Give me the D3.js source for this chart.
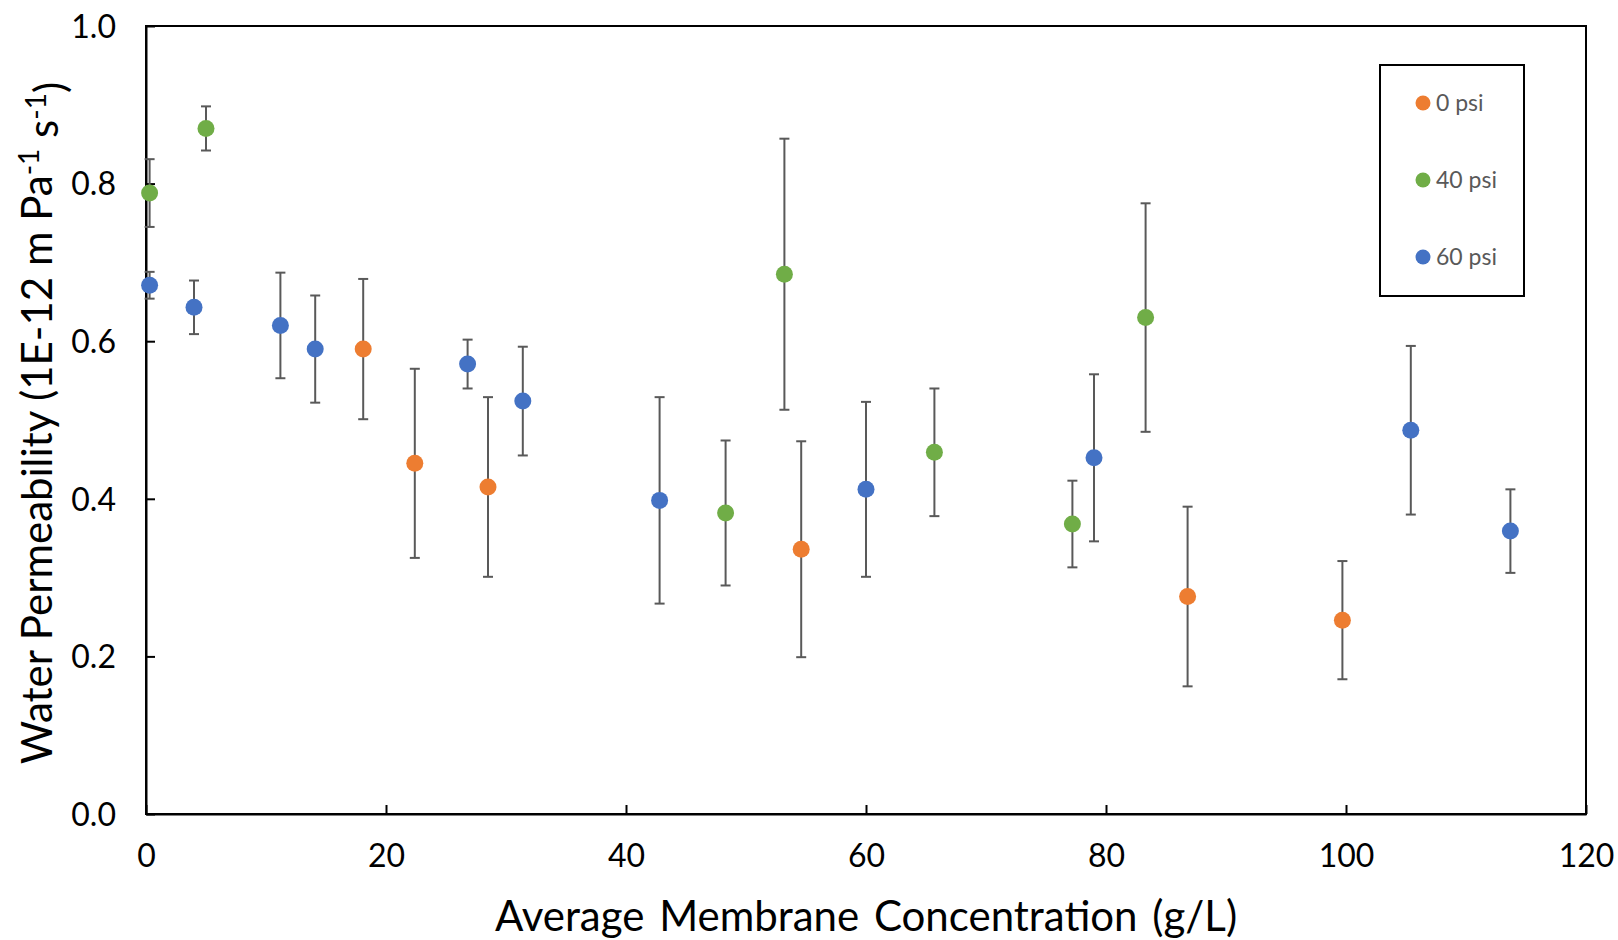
<!DOCTYPE html>
<html>
<head>
<meta charset="utf-8">
<script src="https://cdn.jsdelivr.net/npm/d3@7"></script>
<style>
body { margin: 0; background: #fff; }
svg text { font-family: Lato, "Open Sans", sans-serif; }
</style>
</head>
<body>
<svg id="chart" width="1618" height="940"></svg>
<script>
// data
var psi0X = [18.1, 22.4, 28.5, 54.6, 86.8, 99.7];
var psi0Y = [0.590, 0.445, 0.415, 0.336, 0.276, 0.246];
var psi0Err = [0.089, 0.120, 0.114, 0.137, 0.114, 0.075];

var psi40X = [0.3, 5.0, 48.3, 53.2, 65.7, 77.2, 83.3];
var psi40Y = [0.788, 0.870, 0.382, 0.685, 0.459, 0.368, 0.630];
var psi40Err = [0.043, 0.028, 0.092, 0.172, 0.081, 0.055, 0.145];

var psi60X = [0.3, 4.0, 11.2, 14.1, 26.8, 31.4, 42.8, 60.0, 79.0, 105.4, 113.7];
var psi60Y = [0.671, 0.643, 0.620, 0.590, 0.571, 0.524, 0.398, 0.412, 0.452, 0.487, 0.359];
var psi60Err = [0.017, 0.034, 0.067, 0.068, 0.031, 0.069, 0.131, 0.111, 0.106, 0.107, 0.053];

var seriesNames = ["0 psi", "40 psi", "60 psi"];
var seriesColors = ["#ED7D31", "#70AD47", "#4472C4"];

var xTicks = [0, 20, 40, 60, 80, 100, 120];
var yTicks = [0.0, 0.2, 0.4, 0.6, 0.8, 1.0];

var plotLeft = 146, plotRight = 1586, plotTop = 26, plotBottom = 814;

var svg = d3.select("#chart");

var x = d3.scaleLinear().domain([0, 120]).range([plotLeft, plotRight]);
var y = d3.scaleLinear().domain([0, 1]).range([plotBottom, plotTop]);

// build series table
function makeSeries(xs, ys, es) {
	return xs.map(function(d, i) {
		return { x : d, y : ys[i], err : es[i] };
	});
}
var series = [ makeSeries(psi0X, psi0Y, psi0Err), //
		makeSeries(psi40X, psi40Y, psi40Err), //
		makeSeries(psi60X, psi60Y, psi60Err) ];

// frame
svg.append("rect")
	.attr("x", plotLeft).attr("y", plotTop)
	.attr("width", plotRight - plotLeft).attr("height", plotBottom - plotTop)
	.attr("fill", "none").attr("stroke", "#000").attr("stroke-width", 2);

// axes, ticks pointing inward
var xAxis = svg.append("g").attr("transform", "translate(0," + plotBottom + ")")
	.call(d3.axisBottom(x).tickValues(xTicks).tickSizeInner(-9).tickSizeOuter(0).tickPadding(30)
		.tickFormat(d3.format("d")));
var yAxis = svg.append("g").attr("transform", "translate(" + plotLeft + ",0)")
	.call(d3.axisLeft(y).tickValues(yTicks).tickSizeInner(-9).tickSizeOuter(0).tickPadding(30)
		.tickFormat(d3.format(".1f")));

[xAxis, yAxis].forEach(function(a) {
	a.select(".domain").attr("stroke", "#000").attr("stroke-width", 2);
	a.selectAll(".tick line").attr("stroke", "#000").attr("stroke-width", 2);
	a.selectAll(".tick text").attr("fill", "#000").style("font-size", "32px");
});
xAxis.selectAll(".tick text").attr("dy", "0.71em");
yAxis.selectAll(".tick text").attr("dy", "0.35em");

// error bars
var errLayer = svg.append("g");
series.forEach(function(s) {
	var g = errLayer.append("g").selectAll("g").data(s).enter().append("g");
	g.append("line")
		.attr("x1", function(d) { return x(d.x); })
		.attr("x2", function(d) { return x(d.x); })
		.attr("y1", function(d) { return y(d.y + d.err); })
		.attr("y2", function(d) { return y(d.y - d.err); });
	[1, -1].forEach(function(sign) {
		g.append("line")
			.attr("x1", function(d) { return x(d.x) - 5; })
			.attr("x2", function(d) { return x(d.x) + 5; })
			.attr("y1", function(d) { return y(d.y + sign * d.err); })
			.attr("y2", function(d) { return y(d.y + sign * d.err); });
	});
});
errLayer.selectAll("line").attr("stroke", "#595959").attr("stroke-width", 2);

// points
series.forEach(function(s, k) {
	svg.append("g").selectAll("circle").data(s).enter().append("circle")
		.attr("cx", function(d) { return x(d.x); })
		.attr("cy", function(d) { return y(d.y); })
		.attr("r", 8.5)
		.attr("fill", seriesColors[k]);
});

// legend
var legend = svg.append("g");
legend.append("rect")
	.attr("x", 1380).attr("y", 65).attr("width", 144).attr("height", 231)
	.attr("fill", "#fff").attr("stroke", "#000").attr("stroke-width", 2);
var legendY = d3.scalePoint().domain(seriesNames).range([103, 257]);
seriesNames.forEach(function(name, k) {
	legend.append("circle")
		.attr("cx", 1423).attr("cy", legendY(name)).attr("r", 7.5)
		.attr("fill", seriesColors[k]);
	legend.append("text")
		.attr("x", 1436).attr("y", legendY(name)).attr("dy", "0.35em")
		.attr("fill", "#595959").style("font-size", "23px")
		.text(name);
});

// axis titles
svg.append("text")
	.attr("x", (plotLeft + plotRight) / 2).attr("y", 931)
	.attr("text-anchor", "middle").attr("fill", "#000")
	.style("font-size", "42px").style("word-spacing", "4px")
	.text("Average Membrane Concentration (g/L)");

var yTitle = svg.append("text")
	.attr("transform", "translate(52,423) rotate(-90)")
	.attr("text-anchor", "middle").attr("fill", "#000")
	.style("font-size", "42px");
yTitle.append("tspan").text("Water Permeability (1E-12 m Pa");
yTitle.append("tspan").attr("dy", "-0.45em").style("font-size", "28px").text("-1");
yTitle.append("tspan").attr("dy", "0.45em").text(" s");
yTitle.append("tspan").attr("dy", "-0.45em").style("font-size", "28px").text("-1");
yTitle.append("tspan").attr("dy", "0.45em").text(")");
</script>
</body>
</html>
